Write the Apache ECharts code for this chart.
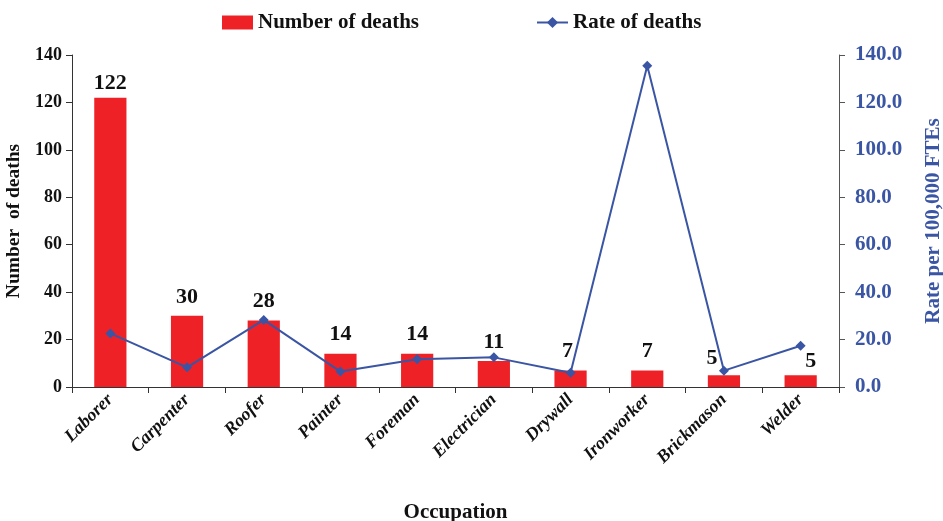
<!DOCTYPE html>
<html>
<head>
<meta charset="utf-8">
<script src="https://cdn.jsdelivr.net/npm/echarts@6/dist/echarts.min.js"></script>
<style>html,body{margin:0;padding:0;background:#fff}#c{width:943px;height:521px}</style>
</head>
<body>
<div id="c"></div>
<script>
var categories = ['Laborer','Carpenter','Roofer','Painter','Foreman','Electrician','Drywall','Ironworker','Brickmason','Welder'];
var deaths = [122, 30, 28, 14, 14, 11, 7, 7, 5, 5];
var rates = [22.6, 8.3, 28.3, 6.5, 11.7, 12.5, 6.0, 135.5, 6.9, 17.4];
var leftTicks = [0, 140, 20];
var rightTicks = [0, 140, 20];

var FONT = "'Liberation Serif','Times New Roman',serif";
var RED = '#ee2226';
var BLUE = '#3a55a4';

// labels nudged where they sit next to the rate line (as in the source)
var labelShift = {'Laborer': [0, 5], 'Drywall': [-3, 0], 'Brickmason': [-12, 2], 'Welder': [10, 5]};
var barData = deaths.map(function (v, i) {
  var s = labelShift[categories[i]] || [0, 0];
  return {value: v, label: {offset: s}};
});

var chart = echarts.init(document.getElementById('c'), null, {renderer: 'canvas'});
chart.setOption({
  animation: false,
  backgroundColor: '#fff',
  textStyle: {fontFamily: FONT},
  legend: {
    top: 7,
    left: 217,
    itemGap: 117,
    itemWidth: 31,
    itemHeight: 14,
    textStyle: {fontFamily: FONT, fontWeight: 'bold', fontSize: 21, color: '#111'},
    data: [
      {name: 'Number of deaths', icon: 'rect'},
      {name: 'Rate of deaths'}
    ]
  },
  grid: {left: 72, right: 104, top: 55, bottom: 134, containLabel: false, outerBoundsMode: 'none'},
  xAxis: {
    type: 'category',
    data: categories,
    name: 'Occupation',
    nameLocation: 'middle',
    nameGap: 115,
    nameTextStyle: {fontFamily: FONT, fontWeight: 'bold', fontSize: 21, color: '#111'},
    axisLine: {lineStyle: {color: '#333', width: 1}},
    axisTick: {show: true, alignWithLabel: false, length: 6, lineStyle: {color: '#333'}},
    axisLabel: {rotate: 45, margin: 10, fontFamily: FONT, fontWeight: 'bold', fontStyle: 'italic', fontSize: 18, color: '#111', interval: 0}
  },
  yAxis: [
    {
      type: 'value',
      min: leftTicks[0], max: leftTicks[1], interval: leftTicks[2],
      name: 'Number  of deaths',
      nameLocation: 'middle',
      nameGap: 44,
      nameTextStyle: {fontFamily: FONT, fontWeight: 'bold', fontSize: 19.5, color: '#111'},
      axisLine: {show: true, lineStyle: {color: '#333'}},
      axisTick: {show: true, length: 6, lineStyle: {color: '#333'}},
      splitLine: {show: false},
      axisLabel: {margin: 10, fontFamily: FONT, fontWeight: 'bold', fontSize: 18, color: '#111'}
    },
    {
      type: 'value',
      min: rightTicks[0], max: rightTicks[1], interval: rightTicks[2],
      name: 'Rate per 100,000 FTEs',
      nameLocation: 'middle',
      nameGap: 84,
      nameTextStyle: {fontFamily: FONT, fontWeight: 'bold', fontSize: 21, color: BLUE},
      position: 'right',
      axisLine: {show: true, lineStyle: {color: '#555'}},
      axisTick: {show: true, length: 6, lineStyle: {color: '#555'}},
      splitLine: {show: false},
      axisLabel: {margin: 16, fontFamily: FONT, fontWeight: 'bold', fontSize: 21, color: BLUE,
        formatter: function (v) { return v.toFixed(1); }}
    }
  ],
  series: [
    {
      name: 'Number of deaths',
      type: 'bar',
      data: barData,
      barWidth: '42%',
      itemStyle: {color: RED},
      label: {show: true, position: 'top', distance: 8, fontFamily: FONT, fontWeight: 'bold', fontSize: 22, color: '#111'}
    },
    {
      name: 'Rate of deaths',
      type: 'line',
      yAxisIndex: 1,
      data: rates,
      symbol: 'diamond',
      symbolSize: 10,
      lineStyle: {color: BLUE, width: 2},
      itemStyle: {color: BLUE}
    }
  ]
});
</script>
</body>
</html>
